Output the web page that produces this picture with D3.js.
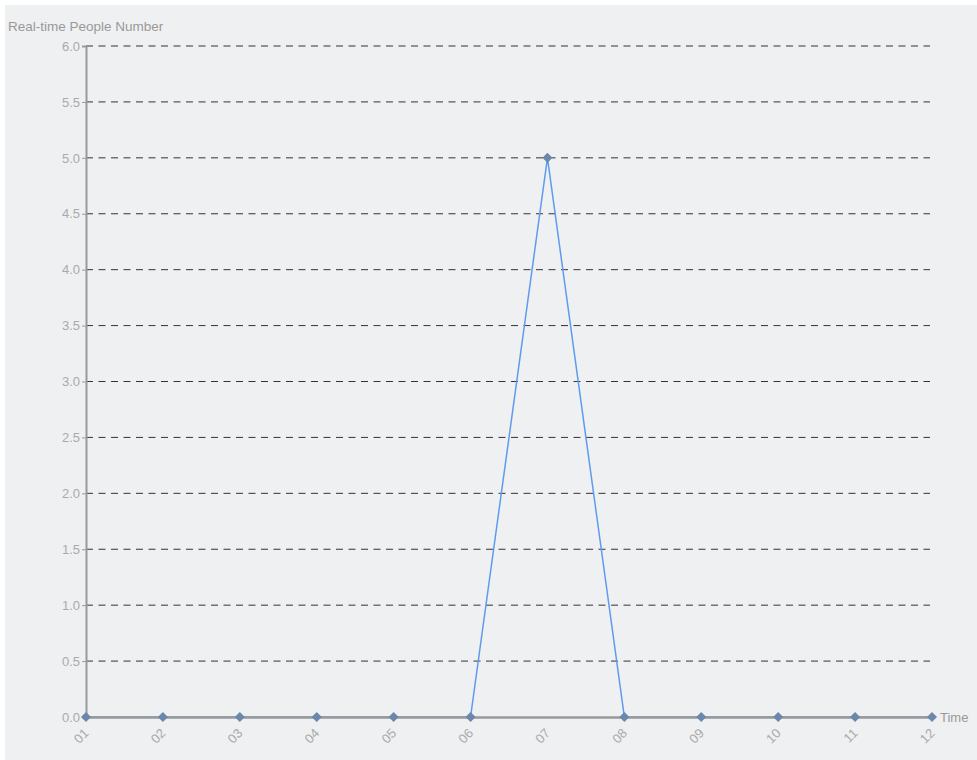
<!DOCTYPE html>
<html><head><meta charset="utf-8">
<script src="https://cdn.jsdelivr.net/npm/d3@7"></script>
<style>
html,body{margin:0;padding:0;background:#fff;}
svg{display:block;}
</style></head>
<body>
<svg id="chart" width="977" height="760"></svg>
<script>
const categories = ["01","02","03","04","05","06","07","08","09","10","11","12"];
const values = [0,0,0,0,0,0,5,0,0,0,0,0];
const yTicks = [0,0.5,1,1.5,2,2.5,3,3.5,4,4.5,5,5.5,6];
const yTitle = "Real-time People Number";
const xTitle = "Time";

const FONT = "Liberation Sans, Arial, sans-serif";
const svg = d3.select("#chart");
svg.append("rect").attr("x",5).attr("y",5).attr("width",972).attr("height",755).attr("fill","#eff0f2");

const x = d3.scalePoint().domain(categories).range([86,932]);
const y = d3.scaleLinear().domain([0,6]).range([717,46]);

// gridlines
svg.append("g").selectAll("line").data(yTicks.filter(d=>d>0)).join("line")
  .attr("x1",86).attr("x2",930).attr("y1",d=>y(d)).attr("y2",d=>y(d))
  .attr("stroke","#333").attr("stroke-width",1).attr("stroke-dasharray","7,5.5");

// line
svg.append("path").datum(values)
  .attr("fill","none").attr("stroke","#5d9cec").attr("stroke-width",1.5)
  .attr("d", d3.line().x((d,i)=>x(categories[i])).y(d=>y(d)));

// y axis
const yAxis = svg.append("g").attr("transform","translate(86,0)")
  .call(d3.axisLeft(y).tickValues(yTicks).tickFormat(d3.format(".1f")).tickSize(4).tickPadding(2));
yAxis.select(".domain").attr("stroke","#999").attr("stroke-width",2);
yAxis.selectAll(".tick line").attr("stroke","#999").attr("stroke-width",1);
yAxis.selectAll("text").attr("fill","#aaa").style("font-family",FONT).style("font-size","13px");

// x axis
const xAxis = svg.append("g").attr("transform","translate(0,717)")
  .call(d3.axisBottom(x).tickSize(0).tickPadding(0));
xAxis.select(".domain").attr("stroke","#999").attr("stroke-width",2.5);
xAxis.selectAll("text")
  .attr("fill","#aaa").style("font-family",FONT).style("font-size","13px")
  .attr("text-anchor","end").attr("dy",null).attr("y",0)
  .attr("transform","translate(3,17) rotate(-45)");

// markers
svg.append("g").selectAll("path").data(values).join("path")
  .attr("transform",(d,i)=>`translate(${x(categories[i])},${y(d)})`)
  .attr("d", d3.symbol().type(d3.symbolDiamond2).size(64))
  .attr("fill","#6b87ab");

// titles
svg.append("text").attr("x",8).attr("y",31).text(yTitle)
  .attr("fill","#999").style("font-family",FONT).style("font-size","13.5px");
svg.append("text").attr("x",940).attr("y",722).text(xTitle)
  .attr("fill","#999").style("font-family",FONT).style("font-size","13px");
</script>
</body></html>
